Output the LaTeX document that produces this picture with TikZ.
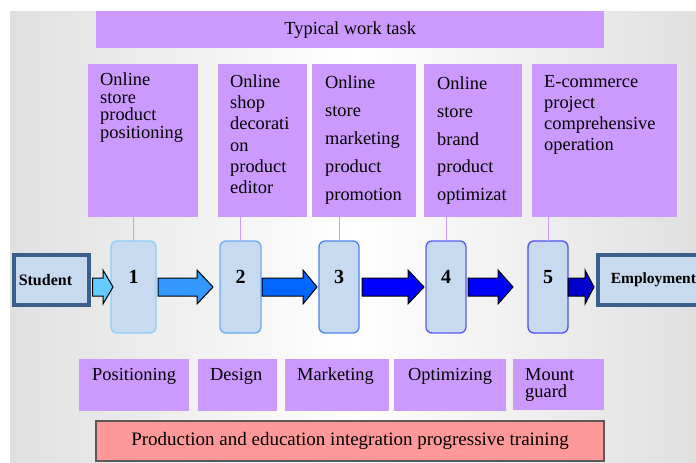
\documentclass[tikz,border=0pt]{standalone}
\usepackage{fontspec}
\setmainfont{Liberation Serif}
\usetikzlibrary{positioning,calc}

\definecolor{taskpurple}{RGB}{204,153,255}
\definecolor{stepfill}{RGB}{200,218,240}
\definecolor{endline}{RGB}{58,95,140}
\definecolor{trainred}{RGB}{255,153,153}
\definecolor{bggray}{RGB}{224,224,224}
\definecolor{stepa}{RGB}{140,205,250}
\definecolor{stepb}{RGB}{105,172,245}
\definecolor{stepc}{RGB}{75,132,240}
\definecolor{stepd}{RGB}{90,90,250}
\definecolor{stepe}{RGB}{80,80,240}
\definecolor{arrowa}{RGB}{102,204,255}
\definecolor{arrowb}{RGB}{51,153,255}
\definecolor{arrowc}{RGB}{0,102,255}
\definecolor{arrowd}{RGB}{0,0,255}
\definecolor{arrowe}{RGB}{0,0,204}

% block arrow: [head length]{from}{to}{fill}
\newcommand{\flowarrow}[4][16pt]{%
  \draw[flow arrow,fill=#4] let \p1=(#2), \p2=(#3) in
    (\x1,\y1+9pt) -- (\x2-#1,\y1+9pt) -- (\x2-#1,\y1+17pt) -- (\x2,\y1)
    -- (\x2-#1,\y1-17pt) -- (\x2-#1,\y1-9pt) -- (\x1,\y1-9pt) -- cycle;}

\begin{document}
\begin{tikzpicture}[x=1pt,y=-1pt,
					task box/.style={rectangle,fill=taskpurple,inner sep=0pt,anchor=north west},
					task text/.style={anchor=north west,align=left,inner sep=0pt,
						font=\fontsize{18.4}{#1}\selectfont},
					step node/.style={rectangle,rounded corners=6pt,fill=stepfill,line width=1.3pt,
						inner sep=0pt,outer sep=0pt,text height=42pt,text depth=50pt,minimum width=40pt,
						font=\fontsize{20}{24}\bfseries},
					end node/.style={rectangle,draw=endline,line width=3.5pt,fill=stepfill,
						inner ysep=0pt,minimum height=50pt,align=left,anchor=west,
						font=\fontsize{16}{19}\bfseries},
					task link/.style={draw=taskpurple,line width=0.8pt},
					flow arrow/.style={draw=black,line width=1pt,line join=miter},
					train box/.style={rectangle,draw=black!65,line width=1.2pt,fill=trainred,
						minimum width=508pt,minimum height=40pt,font=\fontsize{19}{23}\selectfont}]

  \useasboundingbox (0,0) rectangle (696,463);
  \shade[left color=bggray,right color=bggray,middle color=white] (10,11) rectangle (696,463);

  % work tasks
  \node[task box,minimum width=508pt,minimum height=37pt,
        font=\fontsize{18.4}{22}\selectfont] (typical) at (96,11) {Typical work task};
  \node[task box,minimum width=110pt,minimum height=153pt] (task1) at (88,64) {};
  \node[task box,minimum width=89pt,minimum height=153pt] (task2) at (218,64) {};
  \node[task box,minimum width=104pt,minimum height=153pt] (task3) at (312,64) {};
  \node[task box,minimum width=98pt,minimum height=153pt] (task4) at (424,64) {};
  \node[task box,minimum width=145pt,minimum height=153pt] (task5) at (532,64) {};
  \node[task text=17.7pt] (task1 text) at (100,72.5) {Online\\store\\product\\positioning};
  \node[task text=21.2pt] (task2 text) at (230,74.5) {Online\\shop\\decorati\\on\\product\\editor};
  \node[task text=28pt] (task3 text) at (325,75.5) {Online\\store\\marketing\\product\\promotion};
  \node[task text=27.8pt] (task4 text) at (437,76.5) {Online\\store\\brand\\product\\optimizat};
  \node[task text=21pt] (task5 text) at (544,75) {E-commerce\\project\\comprehensive\\operation};

  % steps
  \node[step node,draw=stepa,minimum width=45pt] (step1) at (133.5,287) {1};
  \node[step node,draw=stepb,minimum width=41pt] (step2) [right=64pt of step1] {2};
  \node[step node,draw=stepc] (step3) [right=58pt of step2] {3};
  \node[step node,draw=stepd] (step4) [right=67pt of step3] {4};
  \node[step node,draw=stepe] (step5) [right=62pt of step4] {5};

  \node[end node,text width=65pt,inner xsep=5pt] (student) at (12,280) {Student};
  \node[end node,text width=95pt,inner xsep=13pt,
        font=\fontsize{15.5}{19}\bfseries] (employ) at (596,280) {Employment};

  \path[task link]
    (step1.north) edge (step1.north |- task1.south)
    (step2.north) edge (step2.north |- task2.south)
    (step3.north) edge (step3.north |- task3.south)
    (step4.north) edge (step4.north |- task4.south)
    (step5.north) edge (step5.north |- task5.south);

  \flowarrow[10pt]{$(student.east |- step1.west)+(2,0)$}{$(step1.west)+(2,0)$}{arrowa}
  \flowarrow{$(step1.east)+(2,0)$}{$(step2.west)+(-7,0)$}{arrowb}
  \flowarrow[14pt]{$(step2.east)+(1,0)$}{$(step3.west)+(-2,0)$}{arrowc}
  \flowarrow{$(step3.east)+(3,0)$}{$(step4.west)+(-2,0)$}{arrowd}
  \flowarrow[15pt]{$(step4.east)+(2,0)$}{$(step5.west)+(-15,0)$}{arrowd}
  \flowarrow[9pt]{step5.east}{$(employ.west)+(-2,0)$}{arrowe}

  % stages
  \node[task box,minimum width=110pt,minimum height=52pt] (positioning) at (79,359) {};
  \node[task box,minimum width=79pt,minimum height=52pt] (design) at (198,359) {};
  \node[task box,minimum width=104pt,minimum height=52pt] (marketing) at (285,359) {};
  \node[task box,minimum width=112pt,minimum height=52pt] (optimizing) at (394,359) {};
  \node[task box,minimum width=91pt,minimum height=51pt] (mount) at (513,359) {};
  \node[task text=17pt] (positioning text) at (92,368) {Positioning};
  \node[task text=17pt] (design text) at (210,368) {Design};
  \node[task text=17pt] (marketing text) at (297,367.5) {Marketing};
  \node[task text=17pt] (optimizing text) at (408,368) {Optimizing};
  \node[task text=17pt] (mount text) at (525,368) {Mount\\guard};

  \node[train box] (training) at (350,441) {Production and education integration progressive training};
\end{tikzpicture}
\end{document}
